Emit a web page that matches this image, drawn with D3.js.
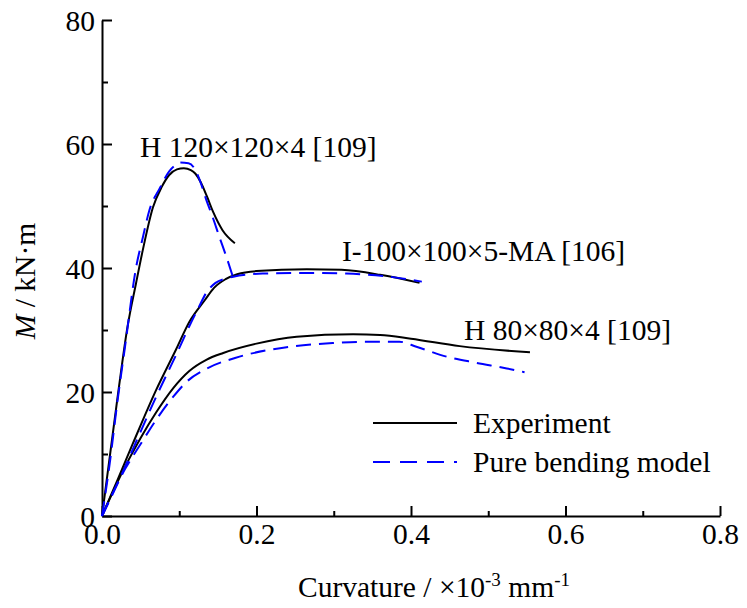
<!DOCTYPE html>
<html>
<head>
<meta charset="utf-8">
<script src="https://cdn.jsdelivr.net/npm/d3@7"></script>
<style>
  html, body { margin: 0; padding: 0; background: #fff; }
  svg { display: block; }
  text { font-family: "Liberation Serif", "Times New Roman", serif; fill: #000; }
</style>
</head>
<body>
<svg id="chart" width="747" height="608"></svg>
<script>
// Moment–curvature curves (curvature ×10^-3 mm^-1, moment kN·m)
const h120Experiment = [[0,0],[0.02,19],[0.033,30.5],[0.044,37.5],[0.053,43],[0.066,49.8],[0.077,53],[0.087,55],[0.097,55.9],[0.106,56.1],[0.115,55.8],[0.121,55.2],[0.128,53.8],[0.136,51.5],[0.144,49],[0.156,46.1],[0.172,44]];
const h120Model = [[0,0],[0.01,8.5],[0.02,18.5],[0.03,27.5],[0.044,40],[0.053,45],[0.0615,49.4],[0.0745,52.8],[0.087,55.6],[0.095,56.6],[0.1,57],[0.112,56.9],[0.12,56],[0.127,54],[0.135,51],[0.143,48.3],[0.152,45],[0.161,41.8],[0.172,37.6]];
const i100Experiment = [[0,0],[0.02,5.8],[0.04,11.7],[0.07,20.3],[0.096,26.9],[0.113,31.3],[0.133,34.8],[0.145,36.8],[0.16,38.2],[0.175,39],[0.2,39.5],[0.265,39.8],[0.31,39.7],[0.36,38.9],[0.411,37.6]];
const i100Model = [[0,0],[0.02,5.2],[0.04,10.8],[0.07,19.2],[0.096,26],[0.113,30.6],[0.125,33.6],[0.135,36],[0.147,37.6],[0.16,38.3],[0.17,38.6],[0.208,39.1],[0.273,39.2],[0.316,39.1],[0.372,38.6],[0.414,37.8]];
const h80Experiment = [[0,0],[0.03,8],[0.05,12.6],[0.07,16.7],[0.092,20.6],[0.113,23.4],[0.135,25.2],[0.157,26.3],[0.2,27.8],[0.252,28.9],[0.325,29.3],[0.36,29.2],[0.4,28.6],[0.463,27.4],[0.554,26.4]];
const h80Model = [[0,0],[0.03,7.6],[0.05,11.6],[0.07,15.5],[0.092,19.2],[0.11,21.7],[0.133,23.6],[0.178,25.7],[0.243,27.3],[0.3,27.9],[0.34,28.1],[0.385,28.1],[0.407,27.3],[0.446,25.7],[0.485,24.7],[0.524,23.8],[0.547,23.2]];

const xTicks = [0, 0.2, 0.4, 0.6, 0.8];
const xMinorTicks = [0.1, 0.3, 0.5, 0.7];
const yTicks = [0, 20, 40, 60, 80];
const yMinorTicks = [10, 30, 50, 70];

const specimenLabels = ["H 120×120×4 [109]", "I-100×100×5-MA [106]", "H 80×80×4 [109]"];
const legendLabels = ["Experiment", "Pure bending model"];

const svg = d3.select("#chart");
const margin = { left: 102, top: 20, right: 27, bottom: 92 };
const W = 747, H = 608;

const x = d3.scaleLinear().domain([0, 0.8]).range([margin.left, W - margin.right]);
const y = d3.scaleLinear().domain([0, 80]).range([H - margin.bottom, margin.top]);

const FS = 29.5;

// Axes: ticks point into the plot
const xAxis = svg.append("g").attr("transform", `translate(0,${y(0)})`)
  .call(d3.axisBottom(x).tickValues(xTicks).tickSize(-10).tickSizeOuter(0).tickPadding(7)
    .tickFormat(d3.format(".1f")));
svg.append("g").attr("transform", `translate(0,${y(0)})`)
  .call(d3.axisBottom(x).tickValues(xMinorTicks).tickSize(-5).tickSizeOuter(0).tickFormat(""))
  .select(".domain").remove();

const yAxis = svg.append("g").attr("transform", `translate(${x(0)},0)`)
  .call(d3.axisLeft(y).tickValues(yTicks).tickSize(-10).tickSizeOuter(0).tickPadding(7)
    .tickFormat(d3.format("d")));
svg.append("g").attr("transform", `translate(${x(0)},0)`)
  .call(d3.axisLeft(y).tickValues(yMinorTicks).tickSize(-6).tickSizeOuter(0).tickFormat(""))
  .select(".domain").remove();

svg.selectAll(".domain, .tick line").attr("stroke", "#000").attr("stroke-width", 2);
svg.selectAll(".tick text").style("font-family", "'Liberation Serif', serif")
  .style("font-size", FS + "px").attr("fill", "#000");
xAxis.selectAll(".tick text").attr("dy", "0.71em");
yAxis.selectAll(".tick text").attr("dy", "0.34em");

// Axis titles
const xt = svg.append("text").attr("x", 298).attr("y", 597).style("font-size", FS + "px");
xt.append("tspan").text("Curvature / ×10");
xt.append("tspan").attr("dy", -11).style("font-size", "19px").text("-3");
xt.append("tspan").attr("dy", 11).text(" mm");
xt.append("tspan").attr("dy", -11).style("font-size", "19px").text("-1");

const yt = svg.append("text").attr("transform", "translate(35,281) rotate(-90)")
  .attr("text-anchor", "middle").style("font-size", FS + "px");
yt.append("tspan").style("font-style", "italic").text("M");
yt.append("tspan").text(" / kN·m");

// Curves
const line = d3.line().x(d => x(d[0])).y(d => y(d[1])).curve(d3.curveMonotoneX);
const experiments = [h120Experiment, i100Experiment, h80Experiment];
const models = [h120Model, i100Model, h80Model];

svg.append("g").selectAll("path").data(experiments).join("path")
  .attr("d", line).attr("fill", "none").attr("stroke", "#000").attr("stroke-width", 2);
svg.append("g").selectAll("path").data(models).join("path")
  .attr("d", line).attr("fill", "none").attr("stroke", "#0000ff").attr("stroke-width", 2)
  .attr("stroke-dasharray", "15,8");

// Specimen labels
const labelPos = [[140, 157], [342, 261], [464, 340]];
svg.append("g").selectAll("text").data(specimenLabels).join("text")
  .attr("x", (d, i) => labelPos[i][0]).attr("y", (d, i) => labelPos[i][1])
  .style("font-size", FS + "px").text(d => d);

// Legend
const legend = svg.append("g");
legend.append("line").attr("x1", 373).attr("x2", 457).attr("y1", 423).attr("y2", 423)
  .attr("stroke", "#000").attr("stroke-width", 2);
legend.append("line").attr("x1", 373).attr("x2", 457).attr("y1", 462).attr("y2", 462)
  .attr("stroke", "#0000ff").attr("stroke-width", 2).attr("stroke-dasharray", "17,10");
legend.selectAll("text").data(legendLabels).join("text")
  .attr("x", 473).attr("y", (d, i) => i === 0 ? 433 : 472)
  .style("font-size", FS + "px").text(d => d);
</script>
</body>
</html>
